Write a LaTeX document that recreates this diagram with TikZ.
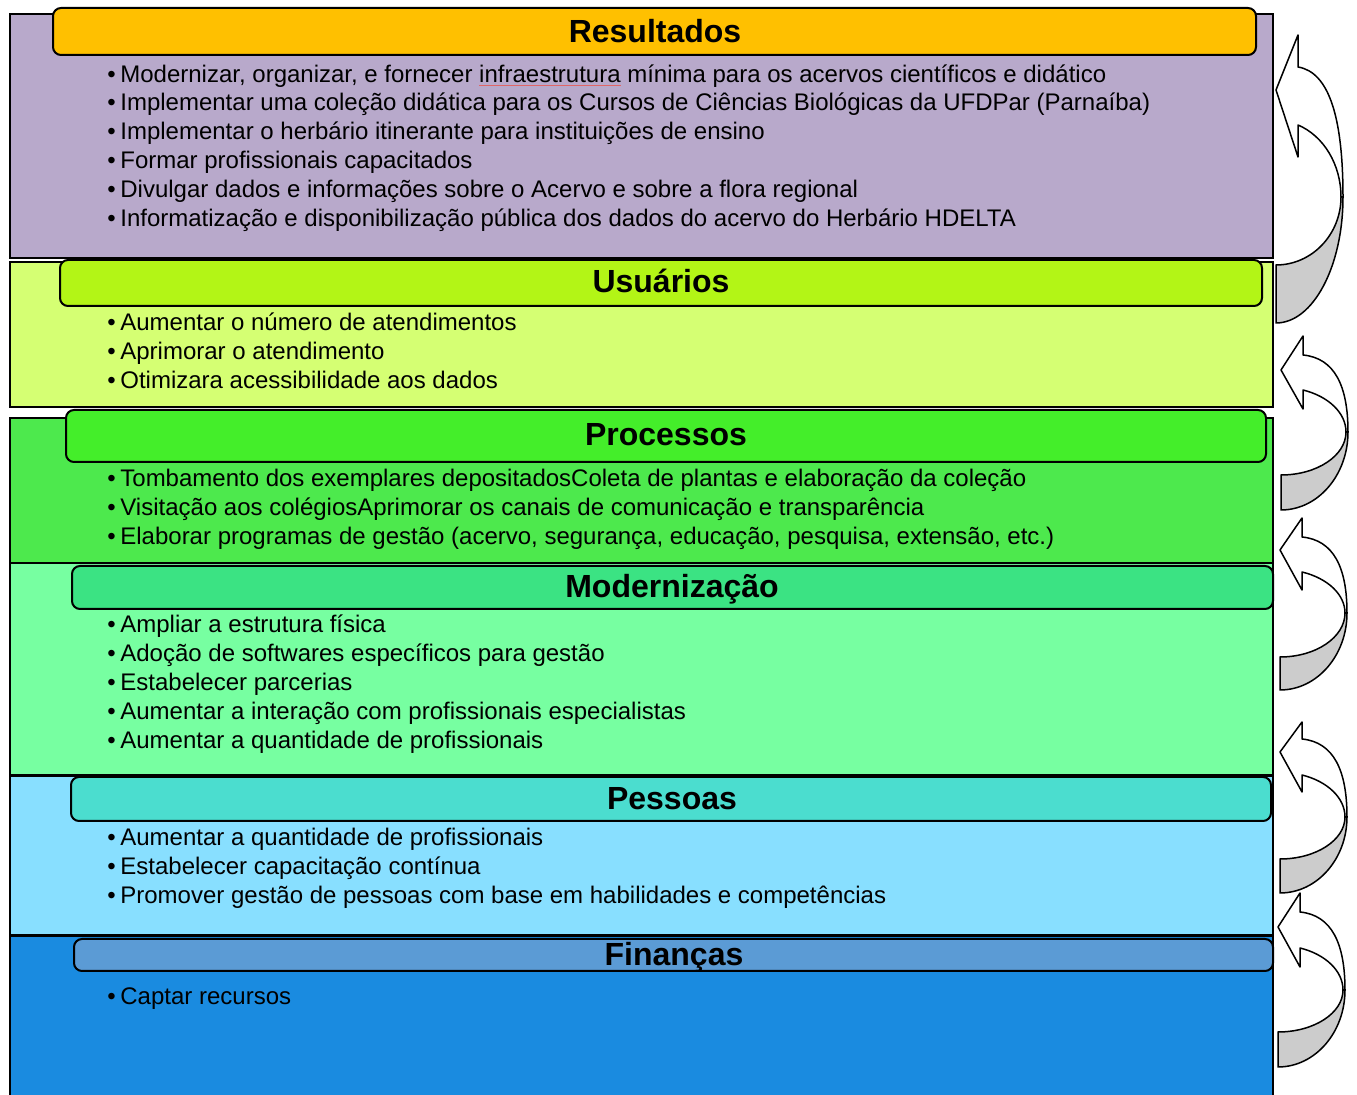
\documentclass[tikz,border=0pt]{standalone}
\usepackage{fontspec}
\setmainfont{Liberation Sans}
\usetikzlibrary{fit}
\definecolor{cResB}{HTML}{B8A9CB}
\definecolor{cResH}{HTML}{FFC000}
\definecolor{cUsuB}{HTML}{D5FF73}
\definecolor{cUsuH}{HTML}{B3F516}
\definecolor{cProB}{HTML}{4DE94D}
\definecolor{cProH}{HTML}{44EE2A}
\definecolor{cModB}{HTML}{77FFA1}
\definecolor{cModH}{HTML}{3BE383}
\definecolor{cPesB}{HTML}{88DFFF}
\definecolor{cPesH}{HTML}{4BDDCF}
\definecolor{cFinB}{HTML}{1A8BE0}
\definecolor{cFinH}{HTML}{5B9BD5}
\definecolor{arrgray}{HTML}{CCCCCC}
\definecolor{squig}{HTML}{E06666}
\tikzset{
  body/.style={draw=black, line width=1.2pt, inner sep=0pt},
  hdr/.style={draw=black, line width=1pt, rounded corners=4pt, inner sep=0pt},
  title/.style={anchor=center, inner sep=0pt, font=\fontsize{16}{19}\selectfont\bfseries,
    text height=11.5pt, text depth=0pt},
  item/.style={anchor=base west, inner sep=0pt, font=\fontsize{12}{14}\selectfont},
  arrline/.style={draw=black, line width=0.75pt, line join=round},
}
\newcommand\bul[3]{\node[item] (#1) at (107,#2) {\makebox[6.5pt][l]{•}#3};}
\newcommand\redul[1]{\setbox0\hbox{#1}\rlap{\color{squig}\rule[-1.4pt]{\wd0}{0.45pt}}\box0\relax}
% #1 L, #2 headTop, #3 neckTop, #4 tip, #5 neckBot, #6 headBot, #7 yC, #8 innerBot, #9 outerBot
\newcommand\curvarr[9]{%
  \pgfmathsetmacro\ArIT{(#7-#5)/0.94}%
  \pgfmathsetmacro\ArOB{#9-#7}%
  \pgfmathsetmacro\ArIB{#8-#7}%
  \draw[arrline, fill=arrgray] ({#1+65},#7) .. controls ({#1+65},{#7+0.552*\ArIB}) and ({#1+0.552*65},#8) .. (#1,#8)
     -- (#1,#9) .. controls ({#1+0.552*67},#9) and ({#1+67},{#7+0.552*\ArOB}) .. ({#1+67},#7) -- cycle;
  \draw[arrline, fill=white] ({#1+22},#3) .. controls ({#1+0.8*67},{#3+0.04*(#7-#3)}) and ({#1+67},{#3+0.4*(#7-#3)}) .. ({#1+67},#7)
     -- ({#1+65},#7) .. controls ({#1+65},{#7-0.42*\ArIT}) and ({#1+0.737*65},{#7-0.796*\ArIT}) .. ({#1+22},#5)
     -- ({#1+22},#6) -- (#1,#4) -- ({#1+22},#2) -- cycle;
}
\begin{document}
\begin{tikzpicture}[x=0.5pt, y=-0.5pt]
\useasboundingbox (0,0) rectangle (1357,1095);
% bodies
\node[body, fill=cResB, fit={(10,14) (1273,258)}] (bres) {};
\node[body, fill=cUsuB, fit={(10,262) (1273,407)}] (busu) {};
\node[body, fill=cProB, fit={(10,418) (1273,563)}] (bpro) {};
\node[body, fill=cModB, fit={(10,563) (1273,775)}] (bmod) {};
\node[body, fill=cPesB, fit={(10,776) (1273,935)}] (bpes) {};
\node[body, fill=cFinB, fit={(10,936) (1273,1110)}] (bfin) {};
% headers
\node[hdr, fill=cResH, fit={(53,8) (1256,55)}] (hres) {};
\node[hdr, fill=cUsuH, fit={(60,260) (1262,306)}] (husu) {};
\node[hdr, fill=cProH, fit={(66,410) (1266,462)}] (hpro) {};
\node[hdr, fill=cModH, fit={(72,566) (1273,609)}] (hmod) {};
\node[hdr, fill=cPesH, fit={(71,777) (1271,821)}] (hpes) {};
\node[hdr, fill=cFinH, fit={(74,939) (1273,971)}] (hfin) {};
\node[title] (tres) at (655,31) {Resultados};
\node[title] (tusu) at (661,281) {Usuários};
\node[title] (tpro) at (666,434) {Processos};
\node[title] (tmod) at (672,586) {Modernização};
\node[title] (tpes) at (672,798) {Pessoas};
\node[title] (tfin) at (674,954) {Finanças};
% items
\bul{r1}{83}{Modernizar, organizar, e fornecer \redul{infraestrutura} mínima para os acervos científicos e didático}
\bul{r2}{111}{Implementar uma coleção didática para os Cursos de Ciências Biológicas da UFDPar (Parnaíba)}
\bul{r3}{140}{Implementar o herbário itinerante para instituições de ensino}
\bul{r4}{169}{Formar profissionais capacitados}
\bul{r5}{198}{Divulgar dados e informações sobre o Acervo e sobre a flora regional}
\bul{r6}{227}{Informatização e disponibilização pública dos dados do acervo do Herbário HDELTA}
\bul{u1}{331}{Aumentar o número de atendimentos}
\bul{u2}{360}{Aprimorar o atendimento}
\bul{u3}{389}{Otimizara acessibilidade aos dados}
\bul{p1}{487}{Tombamento dos exemplares depositadosColeta de plantas e elaboração da coleção}
\bul{p2}{516}{Visitação aos colégiosAprimorar os canais de comunicação e transparência}
\bul{p3}{545}{Elaborar programas de gestão (acervo, segurança, educação, pesquisa, extensão, etc.)}
\bul{m1}{633}{Ampliar a estrutura física}
\bul{m2}{662}{Adoção de softwares específicos para gestão}
\bul{m3}{691}{Estabelecer parcerias}
\bul{m4}{720}{Aumentar a interação com profissionais especialistas}
\bul{m5}{749}{Aumentar a quantidade de profissionais}
\bul{e1}{846}{Aumentar a quantidade de profissionais}
\bul{e2}{875}{Estabelecer capacitação contínua}
\bul{e3}{904}{Promover gestão de pessoas com base em habilidades e competências}
\bul{f1}{1005}{Captar recursos}
% curved arrows
\curvarr{1276}{35}{67}{90}{125}{157}{197}{265}{323}
\curvarr{1281}{336}{355}{370}{390}{409}{432}{475}{510}
\curvarr{1280}{518}{537}{550}{572}{590}{613}{657}{690}
\curvarr{1280}{722}{739}{752}{775}{792}{817}{859}{893}
\curvarr{1278}{893}{912}{927}{948}{967}{990}{1032}{1067}
\end{tikzpicture}
\end{document}
